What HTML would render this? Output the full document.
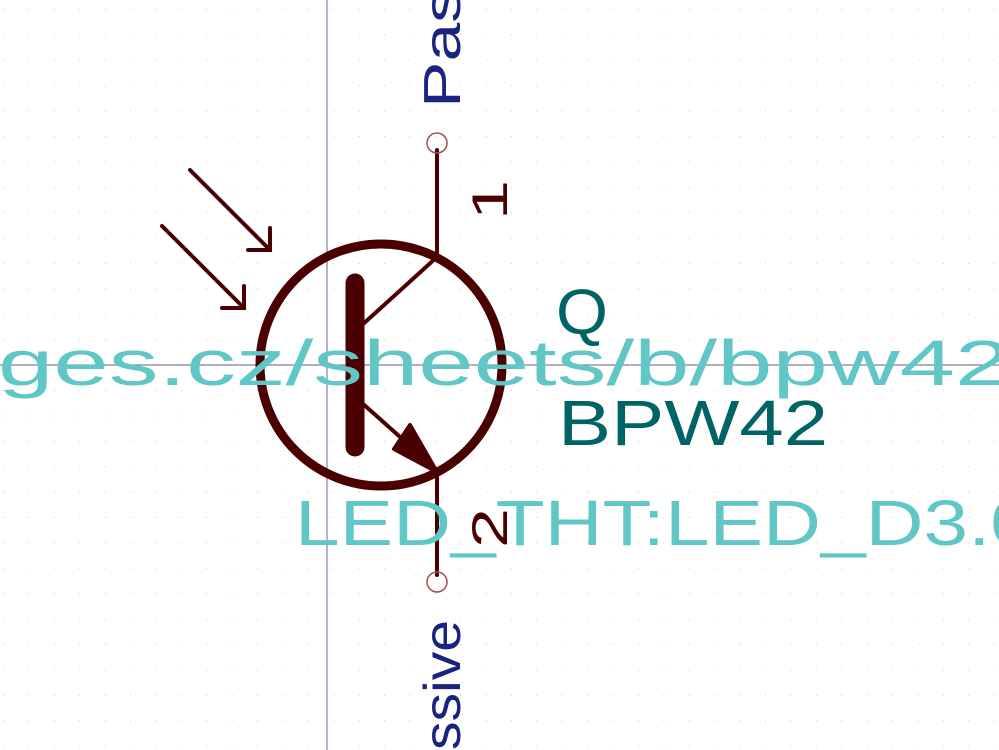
<!DOCTYPE html>
<html><head><meta charset="utf-8"><style>html,body{margin:0;padding:0;background:#fff}svg{display:block}</style></head>
<body>
<svg width="999" height="750" viewBox="0 0 999 750" xmlns="http://www.w3.org/2000/svg">
<defs><pattern id="g" width="25.4" height="25.4" patternUnits="userSpaceOnUse" x="3" y="9"><rect width="1" height="1" fill="#ccc"/></pattern></defs>
<rect width="999" height="750" fill="#fff"/>
<rect width="999" height="750" fill="url(#g)"/>
<line x1="327" y1="0" x2="327" y2="750" stroke="#8080b0" stroke-width="1.2"/>
<line x1="0" y1="365" x2="999" y2="365" stroke="#808090" stroke-width="1.2"/>
<g stroke="#4a0000" fill="none" stroke-linecap="round">
<circle cx="381" cy="365" r="121" stroke-width="9"/>
<line x1="355" y1="283" x2="355" y2="447" stroke-width="19"/>
<line x1="362" y1="325" x2="437" y2="257" stroke-width="4"/>
<line x1="437" y1="150" x2="437" y2="257" stroke-width="4"/>
<line x1="362" y1="403" x2="437" y2="470" stroke-width="4"/>
<line x1="437" y1="470" x2="437" y2="575" stroke-width="4"/>
<line x1="190" y1="170" x2="270" y2="250" stroke-width="4"/>
<polyline points="248,250 270,250 270,228" stroke-width="4"/>
<line x1="162" y1="226" x2="244" y2="308" stroke-width="4"/>
<polyline points="222,308 244,308 244,286" stroke-width="4"/>
</g>
<polygon points="437,472 394,449 410,425" fill="#4a0000" stroke="#4a0000" stroke-width="4" stroke-linejoin="round"/>
<circle cx="437" cy="143" r="10" fill="none" stroke="#a05050" stroke-width="1.5"/>
<circle cx="437" cy="582" r="10" fill="none" stroke="#a05050" stroke-width="1.5"/>
<g font-family="Liberation Sans, sans-serif" fill="#4a0000" font-size="50">
<text transform="translate(507,220) rotate(-90)" textLength="40" lengthAdjust="spacingAndGlyphs">1</text>
<text transform="translate(507,548) rotate(-90)" textLength="40" lengthAdjust="spacingAndGlyphs">2</text>
</g>
<g font-family="Liberation Sans, sans-serif" fill="#1a237e" font-size="52">
<text transform="translate(460,108) rotate(-90)" textLength="120" lengthAdjust="spacingAndGlyphs">Pas</text>
<text transform="translate(460,750) rotate(-90)" textLength="130" lengthAdjust="spacingAndGlyphs">ssive</text>
</g>
<g font-family="Liberation Sans, sans-serif" fill="#006464" font-size="64">
<text x="556" y="334" textLength="52" lengthAdjust="spacingAndGlyphs">Q</text>
<text x="558" y="445" textLength="270" lengthAdjust="spacingAndGlyphs">BPW42</text>
</g>
<g font-family="Liberation Sans, sans-serif" fill="#60c6c6" font-size="64">
<text x="-2" y="385" textLength="1040" lengthAdjust="spacingAndGlyphs">ges.cz/sheets/b/bpw42.</text>
<text x="295" y="545" textLength="740" lengthAdjust="spacingAndGlyphs">LED_THT:LED_D3.0</text>
</g>
</svg>
</body></html>
